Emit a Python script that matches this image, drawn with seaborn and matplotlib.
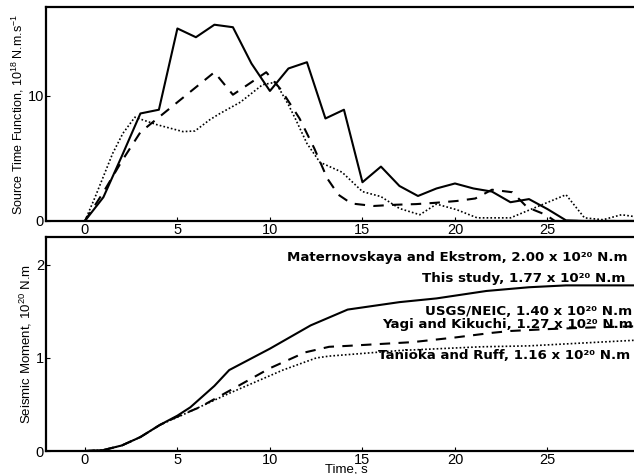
import numpy as np
import pandas as pd
import matplotlib
matplotlib.use("Agg")
import matplotlib.pyplot as plt
import seaborn as sns

# dados lidos da figura
# painel de cima: funcao fonte (10^18 N.m/s)
t_solido = [0, 1, 2, 3, 4, 5, 6, 7, 8, 9, 10, 11, 12, 13, 14, 15, 16, 17, 18, 19, 20,
            21, 22, 23, 24, 25, 26, 27, 28, 29.7]
stf_solido = [0, 1.9, 5.2, 8.6, 8.9, 15.4, 14.7, 15.7, 15.5, 12.6, 10.4, 12.2, 12.7, 8.2,
              8.9, 3.1, 4.35, 2.8, 2.0, 2.6, 3.0, 2.6, 2.35, 1.5, 1.75, 0.95, 0.05, 0, 0, 0]

t_tracejado = [0, 1, 2, 3, 7, 8, 9.8, 10.6, 11.6, 12.4, 13.1, 13.7, 14.4, 15.6, 16.8, 17.9,
               19, 20.1, 21.1, 22, 23.1, 23.9, 24.9, 25.4, 29.7]
stf_tracejado = [0, 2.3, 4.8, 7.1, 11.9, 10.1, 11.9, 10.5, 8.2, 5.8, 3.4, 2.1, 1.4, 1.2, 1.3,
                 1.35, 1.46, 1.6, 1.8, 2.5, 2.3, 1.1, 0.5, 0, 0]

t_pontilhado = [0, 0.55, 1.5, 2.05, 2.7, 3.9, 5.3, 5.95, 6.75, 7.3, 8.4, 9.6, 10.3, 11.0, 11.4,
                12.0, 12.7, 13.9, 15, 16, 17, 18.1, 19, 20.1, 21.2, 23, 26, 27, 28, 29, 29.7]
stf_pontilhado = [0, 1.9, 5.4, 7.0, 8.3, 7.7, 7.15, 7.2, 8.1, 8.6, 9.5, 10.9, 11.1, 9.3, 8.1,
                  6.2, 4.7, 3.9, 2.35, 1.95, 1.0, 0.5, 1.35, 0.9, 0.25, 0.25, 2.1, 0.25, 0.1,
                  0.5, 0.35]

# painel de baixo: momento sismico (10^20 N.m)
tm_solido = [0, 1, 2, 3, 4.05, 5, 5.7, 7, 7.8, 10, 12.2, 14.2, 17, 19, 21.7, 24, 26, 29.7]
m_solido = [0, 0.01, 0.06, 0.15, 0.28, 0.38, 0.47, 0.70, 0.87, 1.1, 1.35, 1.52, 1.6, 1.64,
            1.72, 1.76, 1.78, 1.78]

tm_tracejado = [0, 1, 2, 3, 4.05, 5, 6.2, 8.2, 10, 11.9, 13.2, 14.2, 17.7, 20, 22, 23, 25,
                27.7, 29.7]
m_tracejado = [0, 0.01, 0.06, 0.15, 0.28, 0.37, 0.47, 0.69, 0.89, 1.06, 1.12, 1.13, 1.17,
               1.22, 1.27, 1.29, 1.31, 1.33, 1.34]

tm_pontilhado = [0, 1, 2, 3, 4.05, 5.3, 7.8, 10.7, 12.5, 13.2, 17, 21.4, 24, 29.7]
m_pontilhado = [0, 0.01, 0.06, 0.15, 0.28, 0.39, 0.62, 0.87, 1.0, 1.02, 1.08, 1.12, 1.13, 1.19]

# legendas do painel de baixo
rotulos = [
    "Maternovskaya and Ekstrom, 2.00 x 10²⁰ N.m",
    "This study, 1.77 x 10²⁰ N.m",
    "USGS/NEIC, 1.40 x 10²⁰ N.m",
    "Yagi and Kikuchi, 1.27 x 10²⁰ N.m",
    "Tanioka and Ruff, 1.16 x 10²⁰ N.m",
]
rot_x = [29.35, 29.2, 29.55, 29.6, 29.45]
rot_y = [2.075, 1.85, 1.50, 1.365, 1.03]

#CONFIGURAÇÕES VISUAIS
sns.set_theme(style="ticks")
plt.rcParams["font.family"] = ["Liberation Sans", "DejaVu Sans"]
plt.rcParams["mathtext.fontset"] = "custom"
plt.rcParams["mathtext.rm"] = "Liberation Sans"
plt.rcParams["axes.linewidth"] = 1.6
for chave in ["text.color", "axes.labelcolor", "xtick.color", "ytick.color", "axes.edgecolor"]:
    plt.rcParams[chave] = "black"

fig = plt.figure(figsize=(6.34, 4.74), dpi=100)
ax1 = fig.add_axes([0.0726, 0.5338, 0.929, 0.4515])
ax2 = fig.add_axes([0.0726, 0.0485, 0.929, 0.4515])

estilos = {
    "solido": dict(color="black", linewidth=1.5, linestyle="-"),
    "tracejado": dict(color="black", linewidth=1.5, dashes=(5, 4)),
    "pontilhado": dict(color="black", linewidth=1.2, dashes=(1, 1.3)),
}

#PAINEL DE CIMA
for t, v, k in [(t_solido, stf_solido, "solido"),
                (t_tracejado, stf_tracejado, "tracejado"),
                (t_pontilhado, stf_pontilhado, "pontilhado")]:
    df = pd.DataFrame({"t": t, "v": v})
    st = dict(estilos[k])
    dashes = st.pop("dashes", None)
    linha = sns.lineplot(data=df, x="t", y="v", ax=ax1, sort=False, estimator=None, **st)
    if dashes is not None:
        linha.lines[-1].set_dashes(dashes)

ax1.set_xlim(-2.1, 29.73)
ax1.set_ylim(0, 17.12)
ax1.set_yticks([0, 10])
ax1.set_xticks([0, 5, 10, 15, 20, 25])
ax1.set_xlabel("")
ax1.set_ylabel(r"Source Time Function, 10$^{18}$ N.m.s$^{-1}$", fontsize=9, labelpad=1)

#PAINEL DE BAIXO
for t, v, k in [(tm_solido, m_solido, "solido"),
                (tm_tracejado, m_tracejado, "tracejado"),
                (tm_pontilhado, m_pontilhado, "pontilhado")]:
    df = pd.DataFrame({"t": t, "v": v})
    st = dict(estilos[k])
    dashes = st.pop("dashes", None)
    linha = sns.lineplot(data=df, x="t", y="v", ax=ax2, sort=False, estimator=None, **st)
    if dashes is not None:
        linha.lines[-1].set_dashes(dashes)

ax2.set_xlim(-2.1, 29.73)
ax2.set_ylim(0, 2.30)
ax2.set_yticks([0, 1, 2])
ax2.set_xticks([0, 5, 10, 15, 20, 25])
ax2.set_xlabel("")
ax2.set_ylabel(r"Seismic Moment, 10$^{20}$ N.m", fontsize=9.5, labelpad=1)

for txt, x, y in zip(rotulos, rot_x, rot_y):
    ax2.text(x, y, txt, ha="right", va="center", fontsize=9.6, fontweight="bold",
             family=["DejaVu Sans"])

for ax in (ax1, ax2):
    ax.spines["right"].set_visible(False)
    ax.tick_params(direction="in", length=3, width=0.8, labelsize=10.5, pad=1.5)

fig.text(346 / 634, 1 - 469 / 474, "Time, s", ha="center", va="center", fontsize=9.5)

fig.savefig("out.png", dpi=100)
